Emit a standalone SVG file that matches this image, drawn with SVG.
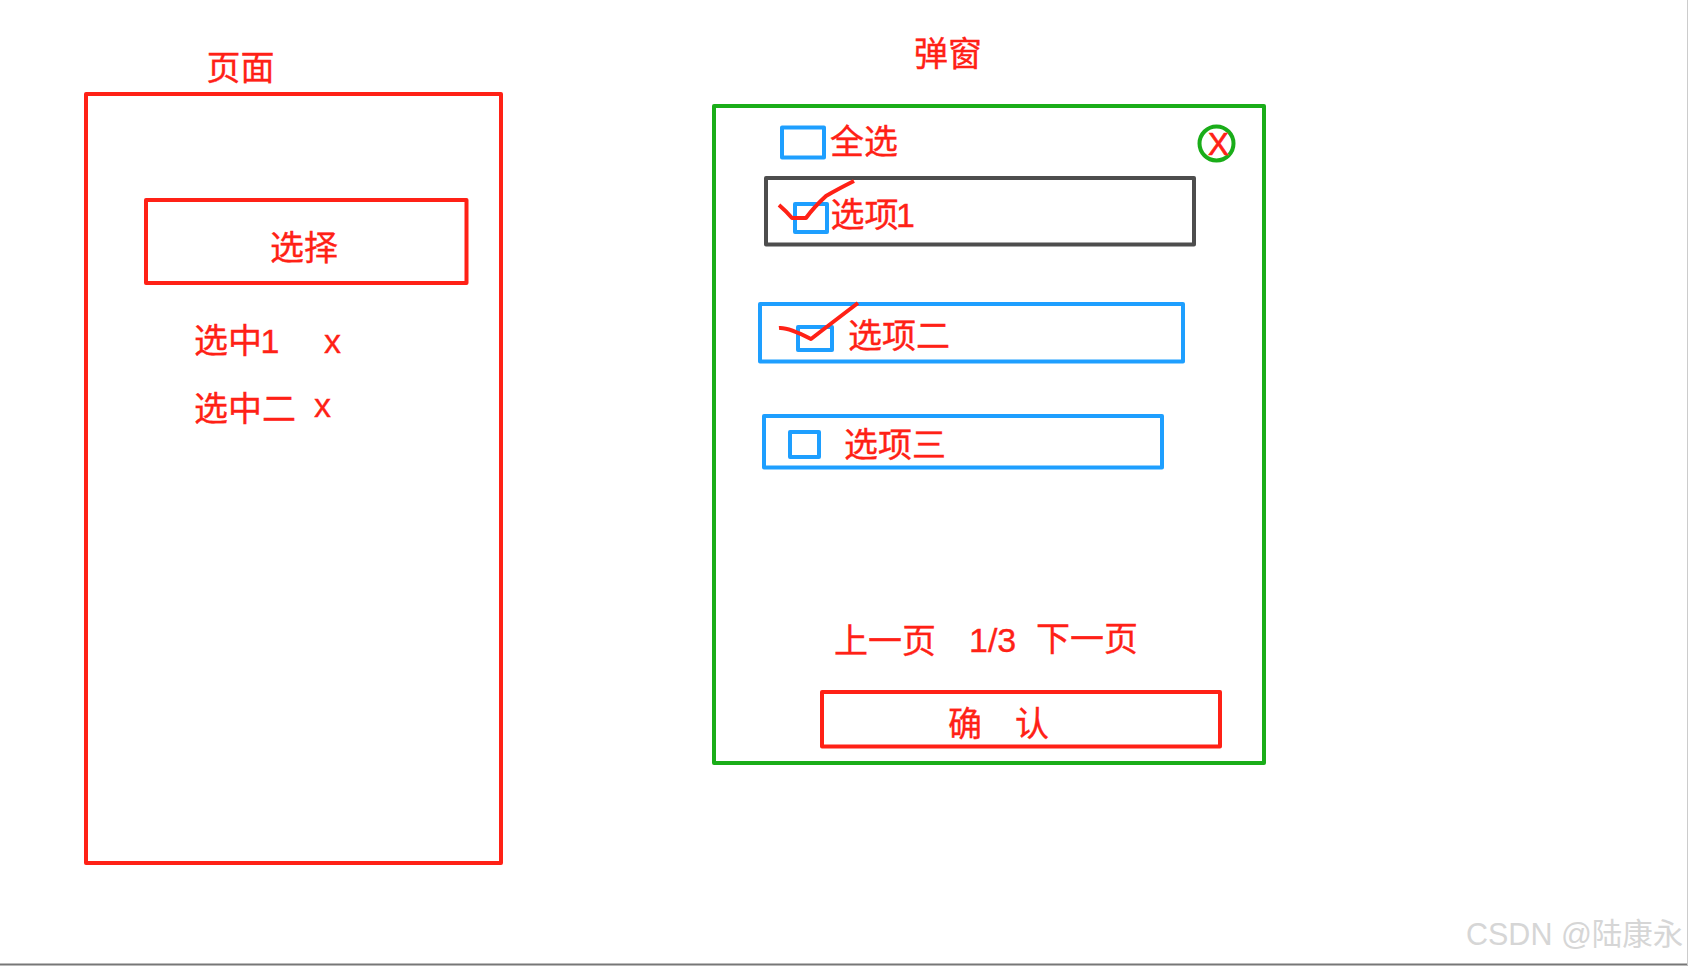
<svg xmlns="http://www.w3.org/2000/svg" width="1688" height="966" viewBox="0 0 1688 966">
<style>
text{font-family:"Liberation Sans","Noto Sans CJK SC",sans-serif;font-size:34px;fill:#ff2116;stroke:#ff2116;stroke-width:.35}
.r{fill:#fff;fill-opacity:0;stroke-width:4;stroke-linejoin:round}
.red{stroke:#ff2116}.blue{stroke:#1e9fff}.green{stroke:#1aad19}.dark{stroke:#4d4d4d}
.chk{fill:none;stroke:#ff2116;stroke-width:4;stroke-linejoin:round;stroke-linecap:butt}
text.wm{font-size:30.500px;fill:#d6d6d6;stroke:none}
</style>
<rect width="1688" height="966" fill="#fff"/>
<g id="page">
<rect class="r red" x="86" y="94" width="415" height="769"/>
<text x="206.500" y="79.500">页面</text>
</g>
<g id="select-button">
<rect class="r red" x="146" y="200" width="320.500" height="83"/>
<text x="270" y="259.500">选择</text>
</g>
<g id="selected-1"><text x="194" y="353">选中<tspan dx="-1.500">1</tspan></text><text x="324" y="353">x</text></g>
<g id="selected-2"><text x="194" y="421">选中二</text><text x="314" y="417">x</text></g>
<g id="dialog">
<rect class="r green" x="714" y="106" width="550" height="657"/>
<text x="914" y="66">弹窗</text>
</g>
<g id="close"><circle cx="1216.500" cy="143.500" r="17" fill="none" stroke="#1aad19" stroke-width="4"/><text x="1208" y="154.500" style="font-size:31px;stroke-width:.7">X</text></g>
<g id="select-all">
<rect class="r blue" x="782" y="127.500" width="42" height="30"/>
<text x="830" y="153.500">全选</text>
</g>
<g id="option-1">
<rect class="r dark" x="766" y="178" width="428" height="66.500"/>
<rect class="r blue" x="795" y="204" width="32" height="28"/>
<path class="chk" d="M779 205Q786 211 792 218L806 218Q814 207 826 196Q838 189 854 181"/>
<text x="830.500" y="227">选项<tspan dx="-2.500">1</tspan></text>
</g>
<g id="option-2">
<rect class="r blue" x="760" y="304" width="423" height="57.500"/>
<rect class="r blue" x="798" y="327" width="34" height="23"/>
<path class="chk" d="M779 328Q788 327 811 339Q833 322 858 303"/>
<text x="848" y="347.500">选项二</text>
</g>
<g id="option-3">
<rect class="r blue" x="764" y="416" width="398" height="51.500"/>
<rect class="r blue" x="790" y="432" width="29" height="25"/>
<text x="844" y="457">选项三</text>
</g>
<g id="pager">
<text x="834" y="652.500">上一页</text>
<text x="969" y="652">1/3</text>
<text x="1036" y="650.500">下一页</text>
</g>
<g id="confirm">
<rect class="r red" x="822" y="692" width="398" height="54.500"/>
<text x="948" y="735.500">确</text><text x="1015" y="735.500">认</text>
</g>
<g id="chrome">
<text class="wm" x="1466" y="945">CSDN @陆康永</text>
<path d="M0 964.500H1688" stroke="#777" stroke-width="2" fill="none"/>
<path d="M1687.500 0V965" stroke="#ccc" stroke-width="1" fill="none"/>
</g>
</svg>
